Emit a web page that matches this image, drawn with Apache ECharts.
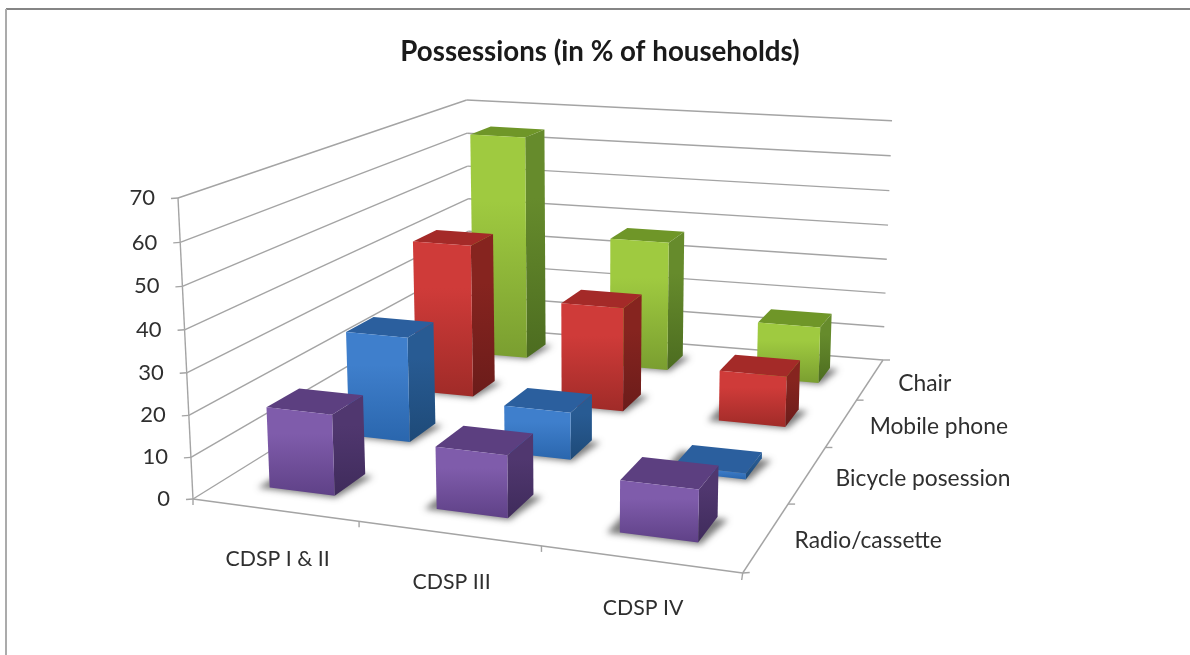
<!DOCTYPE html>
<html>
<head>
<meta charset="utf-8">
<style>html,body{margin:0;padding:0;background:#fff}#chart{width:1190px;height:655px}</style>
<script src="https://cdn.jsdelivr.net/npm/echarts@6/dist/echarts.min.js"></script>
</head>
<body>
<div id="chart"></div>
<script>
// Survey rounds and possession types
const categories = ['CDSP I & II', 'CDSP III', 'CDSP IV'];
const possessions = ['Radio/cassette', 'Bicycle posession', 'Mobile phone', 'Chair'];

// Share of households owning each item, by round
const radio = [19.5, 14.7, 12];
const bicycle = [27, 12, 1.5];
const mobile = [41.7, 28, 13.5];
const chair = [64.5, 37, 16];

const valueTicks = [0, 10, 20, 30, 40, 50, 60, 70];
const FONT = 'Lato, "Noto Sans", sans-serif';

// Per-series palette: front gradient, top, side gradient
const palette = [
  { front: ['#7f5cab', '#5f4187'], top: '#5c3f80', side: ['#50376f', '#3f2b5b'] },
  { front: ['#3f7fcc', '#2a66ad'], top: '#2b5f9e', side: ['#285b93', '#1e4a78'] },
  { front: ['#cf3b39', '#a02b28'], top: '#a42a28', side: ['#86241f', '#6b1c1a'] },
  { front: ['#9fca40', '#7a9e30'], top: '#6f9628', side: ['#668b2c', '#4c6c20'] }
];

// Box corners in screen space: floor quad plus wall tops
const floor = { fl: [193, 499], fr: [742.7, 573], br: [883, 360], bl: [470, 327] };
const tops = [
  { uv: [0, 0], p: [178, 198] },
  { uv: [0, 1], p: [466.7, 100] },
  { uv: [1, 1], p: [892, 120.7] }
];
const BAR_W = 0.4;   // bar width as a fraction of the category band
const BAR_D = 0.385;   // bar depth as a fraction of the possession band
const BAR_SHIFT = 0.002;

// Floor homography from the unit square
function floorMatrix(q) {
  const [x0, y0] = q.fl, [x1, y1] = q.fr, [x2, y2] = q.br, [x3, y3] = q.bl;
  const dx1 = x1 - x2, dx2 = x3 - x2, sx = x0 - x1 + x2 - x3;
  const dy1 = y1 - y2, dy2 = y3 - y2, sy = y0 - y1 + y2 - y3;
  const det = dx1 * dy2 - dx2 * dy1;
  const g = (sx * dy2 - dx2 * sy) / det, h = (dx1 * sy - sx * dy1) / det;
  return { a: x1 - x0 + g * x1, b: x3 - x0 + h * x3, c: x0,
           d: y1 - y0 + g * y1, e: y3 - y0 + h * y3, f: y0, g, h };
}
const M = floorMatrix(floor);

// Height column of the projection, least squares over the wall tops
function heightColumn() {
  const rows = [], rhs = [];
  tops.forEach(t => {
    const [u, v] = t.uv, [x, y] = t.p;
    const w = M.g * u + M.h * v + 1;
    rows.push([1, 0, -x]); rhs.push(x * w - (M.a * u + M.b * v + M.c));
    rows.push([0, 1, -y]); rhs.push(y * w - (M.d * u + M.e * v + M.f));
  });
  const A = [[0,0,0],[0,0,0],[0,0,0]], B = [0,0,0];
  rows.forEach((r, k) => {
    for (let i = 0; i < 3; i++) {
      B[i] += r[i] * rhs[k];
      for (let j = 0; j < 3; j++) A[i][j] += r[i] * r[j];
    }
  });
  for (let i = 0; i < 3; i++) {
    for (let k = i + 1; k < 3; k++) {
      const m = A[k][i] / A[i][i];
      for (let j = i; j < 3; j++) A[k][j] -= m * A[i][j];
      B[k] -= m * B[i];
    }
  }
  const s = [0,0,0];
  for (let i = 2; i >= 0; i--) {
    let t = B[i];
    for (let j = i + 1; j < 3; j++) t -= A[i][j] * s[j];
    s[i] = t / A[i][i];
  }
  return s;
}
const H = heightColumn();

const toHeight = value => echarts.number.linearMap(value, [0, 70], [0, 1]);

function rawProject(u, v, t) {
  const w = M.g * u + M.h * v + H[2] * t + 1;
  return [(M.a * u + M.b * v + H[0] * t + M.c) / w,
          (M.d * u + M.e * v + H[1] * t + M.f) / w];
}

// Affine correction so the wall tops land exactly on their corners
const residual = tops.map(c => {
  const r = rawProject(c.uv[0], c.uv[1], 1);
  return [c.p[0] - r[0], c.p[1] - r[1]];
});

function project(u, v, value) {
  const t = toHeight(value);
  const p = rawProject(u, v, t);
  return [0, 1].map(k => p[k] + t * (residual[0][k]
    + u * (residual[2][k] - residual[1][k]) + v * (residual[1][k] - residual[0][k])));
}

const vGrad = c => new echarts.graphic.LinearGradient(0, 0, 0, 1, [
  { offset: 0, color: c[0] }, { offset: 0.3, color: c[0] }, { offset: 1, color: c[1] }
]);
const poly = (points, fill) => ({ type: 'polygon', shape: { points }, style: { fill, stroke: null } });
const seg = (a, b, width) => ({
  type: 'line', shape: { x1: a[0], y1: a[1], x2: b[0], y2: b[1] },
  style: { stroke: '#a4a4a4', lineWidth: width || 1.4 }
});
const txt = (x, y, text, align, size) => ({
  type: 'text', x, y,
  style: { text, fontFamily: FONT, fontSize: size, fill: '#2f2f2f', align, verticalAlign: 'middle' }
});

// Normalised footprint of a bar
function footprint(api) {
  const c = api.coord([api.value(0), api.value(1)]);
  const s = api.size([1, 1]);
  const W = api.getWidth(), Ht = api.getHeight();
  const uc = c[0] / W + BAR_SHIFT, vc = 1 - c[1] / Ht;
  const hu = (s[0] / W) * BAR_W / 2, hv = (s[1] / Ht) * BAR_D / 2;
  return { u0: uc - hu, u1: uc + hu, v0: vc - hv, v1: vc + hv };
}

function renderBar(seriesIndex) {
  const pal = palette[seriesIndex];
  return (params, api) => {
    const f = footprint(api), val = api.value(2);
    const a0 = project(f.u0, f.v0, 0), b0 = project(f.u1, f.v0, 0), c0 = project(f.u1, f.v1, 0);
    const a1 = project(f.u0, f.v0, val), b1 = project(f.u1, f.v0, val),
          c1 = project(f.u1, f.v1, val), d1 = project(f.u0, f.v1, val);
    return { type: 'group', children: [
      poly([b0, c0, c1, b1], vGrad(pal.side)),
      poly([a1, b1, c1, d1], pal.top),
      poly([a0, b0, b1, a1], vGrad(pal.front))
    ] };
  };
}

// Soft floor shadow: the shape sits off canvas, only its blurred shadow lands on the floor
const SHADOW_SHIFT = 3000;
function renderShadow(params, api) {
  const f = footprint(api);
  const du = 0.02, dv = 0.006;
  const pts = [project(f.u0 - du, f.v0 - dv, 0), project(f.u1 + du * 0.3, f.v0 - dv, 0),
               project(f.u1 + du, f.v1 - dv, 0), project(f.u0 - du, f.v1 - dv, 0)]
    .map(p => [p[0] - SHADOW_SHIFT, p[1]]);
  return { type: 'polygon', shape: { points: pts },
           style: { fill: '#000', shadowBlur: 6, shadowOffsetX: SHADOW_SHIFT, shadowColor: 'rgba(70,70,70,0.7)' } };
}

// Walls and value labels, one item per value tick
function renderValueTick(params, api) {
  const val = valueTicks[params.dataIndex];
  const a = project(0, 0, val), b = project(0, 1, val), c = project(1, 1, val);
  const children = [seg(a, b), seg(b, c), seg([a[0] - 7, a[1] + 0.5], a)];
  children.push(txt(a[0] - 23, a[1], String(val), 'right', 22));
  if (params.dataIndex < valueTicks.length - 1) {
    children.push(seg(a, project(0, 0, valueTicks[params.dataIndex + 1])));
  }
  return { type: 'group', children };
}

function renderFloorEdges(params, api) {
  const fl = project(0, 0, 0), fr = project(1, 0, 0), br = project(1, 1, 0);
  const children = [seg(fl, fr), seg(fr, br)];
  categories.forEach((_, i) => {
    const p = project(i / 3, 0, 0);
    children.push(seg(p, [p[0], p[1] + 6]));
  });
  children.push(seg(fr, [fr[0] - 1, fr[1] + 7]));
  possessions.forEach((_, i) => {
    const p = project(1, (i + 1) / 4, 0);
    children.push(seg(p, [p[0] + 7, p[1]]));
  });
  children.push(seg(fr, [fr[0] + 7, fr[1] - 0.5]));
  return { type: 'group', children };
}

function renderCategoryLabel(params, api) {
  const p = project((params.dataIndex + 0.5) / 3, 0, 0);
  return txt(p[0] + 3.5, p[1] + 49, categories[params.dataIndex], 'center', 21.3);
}

function renderPossessionLabel(params, api) {
  const p = project(1, (params.dataIndex + 0.5) / 4, 0);
  return txt(p[0] + 28, p[1] + 4, possessions[params.dataIndex], 'left', 22.8);
}

const rows = [radio, bicycle, mobile, chair];
const barData = row => rows[row].map((v, i) => [i, row, v]);

const series = [
  { type: 'custom', name: 'Walls', coordinateSystem: 'none', z: 1, silent: true,
    data: valueTicks.map(v => [v]), renderItem: renderValueTick },
  { type: 'custom', name: 'Floor edges', coordinateSystem: 'none', z: 1, silent: true,
    data: [[0]], renderItem: renderFloorEdges },
  { type: 'custom', name: 'Round labels', coordinateSystem: 'none', z: 1, silent: true,
    data: categories.map(c => [c]), renderItem: renderCategoryLabel },
  { type: 'custom', name: 'Possession labels', coordinateSystem: 'none', z: 1, silent: true,
    data: possessions.map(c => [c]), renderItem: renderPossessionLabel }
];
rows.forEach((_, row) => {
  series.push({ type: 'custom', name: possessions[row] + ' shadow', z: 2, silent: true,
    encode: { x: 0, y: 1 }, data: barData(row), renderItem: renderShadow });
  series.push({ type: 'custom', name: possessions[row], z: 10 - row, silent: true,
    encode: { x: 0, y: 1 }, data: barData(row), renderItem: renderBar(row) });
});

const chart = echarts.init(document.getElementById('chart'), null, { renderer: 'canvas' });
chart.setOption({
  animation: false,
  backgroundColor: '#ffffff',
  title: {
    text: 'Possessions (in % of households)', left: 595, top: 33, textAlign: 'center',
    textStyle: { fontFamily: FONT, fontSize: 27.7, fontWeight: 'bold', color: '#1a1a1a' }
  },
  grid: { left: 0, right: 0, top: 0, bottom: 0, show: false },
  xAxis: { type: 'category', data: categories, show: false },
  yAxis: { type: 'category', data: possessions, show: false },
  graphic: [
    { type: 'line', silent: true, shape: { x1: 6, y1: 9, x2: 1190, y2: 9 },
      style: { stroke: '#858585', lineWidth: 2.2 } },
    { type: 'line', silent: true, shape: { x1: 6, y1: 9, x2: 6, y2: 655 },
      style: { stroke: '#ababab', lineWidth: 2 } }
  ],
  series
});
</script>
</body>
</html>
